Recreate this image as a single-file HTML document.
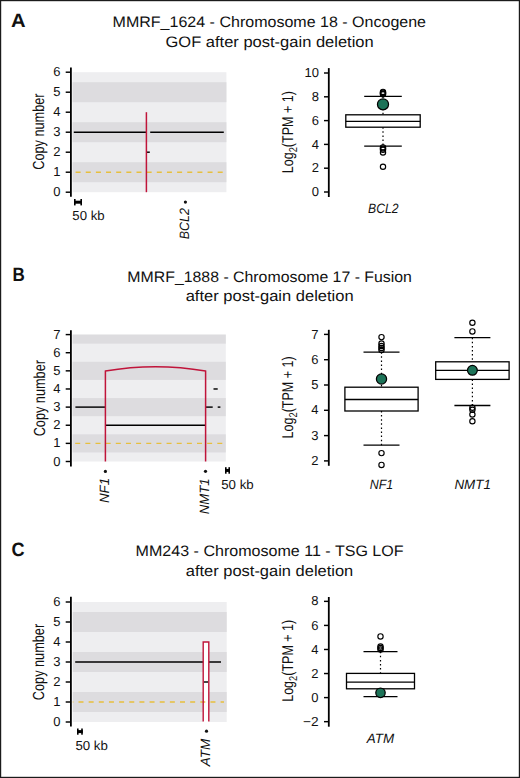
<!DOCTYPE html>
<html><head><meta charset="utf-8"><title>Figure</title>
<style>html,body{margin:0;padding:0;background:#fff;}svg{display:block;}</style>
</head><body>
<svg width="520" height="778" viewBox="0 0 520 778" text-rendering="geometricPrecision" font-family='"Liberation Sans", sans-serif' fill="#111">
<rect x="0.00" y="0.00" width="520.00" height="778.00" fill="#fff"/>
<text x="10.90" y="26.80" font-size="19.2" font-weight="bold" textLength="14.60" lengthAdjust="spacingAndGlyphs">A</text>
<text x="269.30" y="26.90" font-size="15.2" text-anchor="middle" textLength="313.50" lengthAdjust="spacingAndGlyphs">MMRF_1624 - Chromosome 18 - Oncogene</text>
<text x="269.60" y="46.50" font-size="15.2" text-anchor="middle" textLength="208.20" lengthAdjust="spacingAndGlyphs">GOF after post-gain deletion</text>
<rect x="72.60" y="72.20" width="153.80" height="120.00" fill="#eeeef0"/>
<rect x="72.60" y="162.20" width="153.80" height="20.00" fill="#dddcdf"/>
<rect x="72.60" y="122.20" width="153.80" height="20.00" fill="#dddcdf"/>
<rect x="72.60" y="82.20" width="153.80" height="20.00" fill="#dddcdf"/>
<line x1="70.90" y1="67.40" x2="70.90" y2="196.80" stroke="#000" stroke-width="1.8"/>
<line x1="65.70" y1="192.20" x2="70.90" y2="192.20" stroke="#000" stroke-width="1.45"/>
<text x="60.60" y="196.30" font-size="13" text-anchor="end">0</text>
<line x1="65.70" y1="172.20" x2="70.90" y2="172.20" stroke="#000" stroke-width="1.45"/>
<text x="60.60" y="176.30" font-size="13" text-anchor="end">1</text>
<line x1="65.70" y1="152.20" x2="70.90" y2="152.20" stroke="#000" stroke-width="1.45"/>
<text x="60.60" y="156.30" font-size="13" text-anchor="end">2</text>
<line x1="65.70" y1="132.20" x2="70.90" y2="132.20" stroke="#000" stroke-width="1.45"/>
<text x="60.60" y="136.30" font-size="13" text-anchor="end">3</text>
<line x1="65.70" y1="112.20" x2="70.90" y2="112.20" stroke="#000" stroke-width="1.45"/>
<text x="60.60" y="116.30" font-size="13" text-anchor="end">4</text>
<line x1="65.70" y1="92.20" x2="70.90" y2="92.20" stroke="#000" stroke-width="1.45"/>
<text x="60.60" y="96.30" font-size="13" text-anchor="end">5</text>
<line x1="65.70" y1="72.20" x2="70.90" y2="72.20" stroke="#000" stroke-width="1.45"/>
<text x="60.60" y="76.30" font-size="13" text-anchor="end">6</text>
<text x="44.40" y="131.60" font-size="16.0" text-anchor="middle" textLength="76.30" lengthAdjust="spacingAndGlyphs" transform="rotate(-90 44.40 131.60)">Copy number</text>
<rect x="74.00" y="200.70" width="8.00" height="3.00" fill="#000"/>
<rect x="74.00" y="199.00" width="1.60" height="6.40" fill="#000"/>
<rect x="80.40" y="199.00" width="1.60" height="6.40" fill="#000"/>
<text x="72.30" y="219.90" font-size="13" textLength="32.30" lengthAdjust="spacingAndGlyphs">50 kb</text>
<line x1="73.80" y1="132.20" x2="146.40" y2="132.20" stroke="#000" stroke-width="1.45"/>
<line x1="150.20" y1="132.20" x2="223.80" y2="132.20" stroke="#000" stroke-width="1.45"/>
<line x1="74.00" y1="172.20" x2="223.80" y2="172.20" stroke="#e7bf3e" stroke-width="1.4" stroke-dasharray="5.0 5.15" stroke-dashoffset="8.55"/>
<line x1="146.40" y1="152.20" x2="149.80" y2="152.20" stroke="#000" stroke-width="1.45"/>
<line x1="146.40" y1="112.20" x2="146.40" y2="192.20" stroke="#c0143a" stroke-width="1.5"/>
<circle cx="185.40" cy="202.10" r="1.6" fill="#111"/>
<text x="189.30" y="208.20" font-size="13.5" font-style="italic" text-anchor="end" transform="rotate(-90 189.30 208.20)" textLength="31.00" lengthAdjust="spacingAndGlyphs">BCL2</text>
<line x1="328.80" y1="68.10" x2="328.80" y2="197.00" stroke="#000" stroke-width="1.8"/>
<line x1="324.00" y1="192.00" x2="328.80" y2="192.00" stroke="#000" stroke-width="1.45"/>
<text x="318.90" y="196.10" font-size="13" text-anchor="end">0</text>
<line x1="324.00" y1="168.20" x2="328.80" y2="168.20" stroke="#000" stroke-width="1.45"/>
<text x="318.90" y="172.30" font-size="13" text-anchor="end">2</text>
<line x1="324.00" y1="144.40" x2="328.80" y2="144.40" stroke="#000" stroke-width="1.45"/>
<text x="318.90" y="148.50" font-size="13" text-anchor="end">4</text>
<line x1="324.00" y1="120.60" x2="328.80" y2="120.60" stroke="#000" stroke-width="1.45"/>
<text x="318.90" y="124.70" font-size="13" text-anchor="end">6</text>
<line x1="324.00" y1="96.80" x2="328.80" y2="96.80" stroke="#000" stroke-width="1.45"/>
<text x="318.90" y="100.90" font-size="13" text-anchor="end">8</text>
<line x1="324.00" y1="73.00" x2="328.80" y2="73.00" stroke="#000" stroke-width="1.45"/>
<text x="318.90" y="77.10" font-size="13" text-anchor="end">10</text>
<text x="293.10" y="132.20" font-size="15.6" text-anchor="middle" transform="rotate(-90 293.10 132.20)" textLength="82.00" lengthAdjust="spacingAndGlyphs">Log<tspan font-size="11.5" dy="3.6">2</tspan><tspan dy="-3.6">(TPM + 1)</tspan></text>
<line x1="383.00" y1="96.40" x2="383.00" y2="114.80" stroke="#000" stroke-width="1.2" stroke-dasharray="1.5 2.6"/>
<line x1="383.00" y1="127.20" x2="383.00" y2="146.10" stroke="#000" stroke-width="1.2" stroke-dasharray="1.5 2.6"/>
<rect x="345.80" y="114.80" width="74.40" height="12.40" fill="#fff" stroke="#000" stroke-width="1.3"/>
<line x1="345.80" y1="121.40" x2="420.20" y2="121.40" stroke="#000" stroke-width="1.3"/>
<line x1="364.20" y1="96.40" x2="401.80" y2="96.40" stroke="#000" stroke-width="1.3"/>
<line x1="364.20" y1="146.10" x2="401.80" y2="146.10" stroke="#000" stroke-width="1.3"/>
<circle cx="383.00" cy="91.90" r="2.65" fill="none" stroke="#000" stroke-width="1.15"/>
<circle cx="383.00" cy="92.70" r="2.65" fill="none" stroke="#000" stroke-width="1.15"/>
<circle cx="383.00" cy="93.50" r="2.65" fill="none" stroke="#000" stroke-width="1.15"/>
<circle cx="383.00" cy="94.30" r="2.65" fill="none" stroke="#000" stroke-width="1.15"/>
<circle cx="383.00" cy="147.40" r="2.65" fill="none" stroke="#000" stroke-width="1.15"/>
<circle cx="383.00" cy="148.60" r="2.65" fill="none" stroke="#000" stroke-width="1.15"/>
<circle cx="383.00" cy="149.80" r="2.65" fill="none" stroke="#000" stroke-width="1.15"/>
<circle cx="383.00" cy="152.40" r="2.65" fill="none" stroke="#000" stroke-width="1.15"/>
<circle cx="383.00" cy="166.75" r="2.65" fill="none" stroke="#000" stroke-width="1.15"/>
<circle cx="383.00" cy="104.30" r="5.55" fill="#1c7358" stroke="#000" stroke-width="1.25"/>
<text x="383.30" y="213.20" font-size="13.5" text-anchor="middle" font-style="italic" textLength="30.50" lengthAdjust="spacingAndGlyphs">BCL2</text>
<text x="12.50" y="281.30" font-size="19.2" font-weight="bold" textLength="12.30" lengthAdjust="spacingAndGlyphs">B</text>
<text x="269.65" y="281.70" font-size="15.2" text-anchor="middle" textLength="284.60" lengthAdjust="spacingAndGlyphs">MMRF_1888 - Chromosome 17 - Fusion</text>
<text x="269.65" y="300.50" font-size="15.2" text-anchor="middle" textLength="168.00" lengthAdjust="spacingAndGlyphs">after post-gain deletion</text>
<rect x="72.60" y="334.59" width="153.20" height="126.91" fill="#eeeef0"/>
<rect x="72.60" y="434.31" width="153.20" height="18.13" fill="#dddcdf"/>
<rect x="72.60" y="398.05" width="153.20" height="18.13" fill="#dddcdf"/>
<rect x="72.60" y="361.79" width="153.20" height="18.13" fill="#dddcdf"/>
<rect x="72.60" y="334.59" width="153.20" height="9.06" fill="#dddcdf"/>
<line x1="70.90" y1="330.30" x2="70.90" y2="466.60" stroke="#000" stroke-width="1.8"/>
<line x1="65.70" y1="461.50" x2="70.90" y2="461.50" stroke="#000" stroke-width="1.45"/>
<text x="60.40" y="465.60" font-size="13" text-anchor="end">0</text>
<line x1="65.70" y1="443.37" x2="70.90" y2="443.37" stroke="#000" stroke-width="1.45"/>
<text x="60.40" y="447.47" font-size="13" text-anchor="end">1</text>
<line x1="65.70" y1="425.24" x2="70.90" y2="425.24" stroke="#000" stroke-width="1.45"/>
<text x="60.40" y="429.34" font-size="13" text-anchor="end">2</text>
<line x1="65.70" y1="407.11" x2="70.90" y2="407.11" stroke="#000" stroke-width="1.45"/>
<text x="60.40" y="411.21" font-size="13" text-anchor="end">3</text>
<line x1="65.70" y1="388.98" x2="70.90" y2="388.98" stroke="#000" stroke-width="1.45"/>
<text x="60.40" y="393.08" font-size="13" text-anchor="end">4</text>
<line x1="65.70" y1="370.85" x2="70.90" y2="370.85" stroke="#000" stroke-width="1.45"/>
<text x="60.40" y="374.95" font-size="13" text-anchor="end">5</text>
<line x1="65.70" y1="352.72" x2="70.90" y2="352.72" stroke="#000" stroke-width="1.45"/>
<text x="60.40" y="356.82" font-size="13" text-anchor="end">6</text>
<line x1="65.70" y1="334.59" x2="70.90" y2="334.59" stroke="#000" stroke-width="1.45"/>
<text x="60.40" y="338.69" font-size="13" text-anchor="end">7</text>
<text x="44.70" y="398.20" font-size="16.0" text-anchor="middle" textLength="76.30" lengthAdjust="spacingAndGlyphs" transform="rotate(-90 44.70 398.20)">Copy number</text>
<rect x="225.00" y="468.95" width="5.00" height="3.00" fill="#000"/>
<rect x="225.00" y="467.20" width="1.60" height="6.50" fill="#000"/>
<rect x="228.40" y="467.20" width="1.60" height="6.50" fill="#000"/>
<text x="221.20" y="489.00" font-size="13" textLength="32.50" lengthAdjust="spacingAndGlyphs">50 kb</text>
<line x1="75.40" y1="407.11" x2="105.40" y2="407.11" stroke="#000" stroke-width="1.45"/>
<line x1="205.60" y1="407.11" x2="212.70" y2="407.11" stroke="#000" stroke-width="1.45"/>
<line x1="217.70" y1="407.11" x2="220.40" y2="407.11" stroke="#000" stroke-width="1.45"/>
<line x1="213.50" y1="388.98" x2="217.70" y2="388.98" stroke="#000" stroke-width="1.45"/>
<line x1="105.40" y1="425.24" x2="205.60" y2="425.24" stroke="#000" stroke-width="1.45"/>
<line x1="74.00" y1="443.37" x2="224.00" y2="443.37" stroke="#e7bf3e" stroke-width="1.4" stroke-dasharray="5.0 5.15" stroke-dashoffset="8.95"/>
<path d="M105.4 461.50 V371.1 Q155.5 362.2 205.6 371.1 V461.50" fill="none" stroke="#c0143a" stroke-width="1.5"/>
<circle cx="105.40" cy="471.40" r="1.6" fill="#111"/>
<circle cx="205.50" cy="471.30" r="1.6" fill="#111"/>
<text x="109.30" y="477.90" font-size="13.5" font-style="italic" text-anchor="end" transform="rotate(-90 109.30 477.90)" textLength="25.20" lengthAdjust="spacingAndGlyphs">NF1</text>
<text x="209.20" y="478.30" font-size="13.5" font-style="italic" text-anchor="end" transform="rotate(-90 209.20 478.30)" textLength="36.00" lengthAdjust="spacingAndGlyphs">NMT1</text>
<line x1="328.80" y1="329.80" x2="328.80" y2="465.80" stroke="#000" stroke-width="1.8"/>
<line x1="324.00" y1="460.90" x2="328.80" y2="460.90" stroke="#000" stroke-width="1.45"/>
<text x="318.50" y="465.00" font-size="13" text-anchor="end">2</text>
<line x1="324.00" y1="435.60" x2="328.80" y2="435.60" stroke="#000" stroke-width="1.45"/>
<text x="318.50" y="439.70" font-size="13" text-anchor="end">3</text>
<line x1="324.00" y1="410.30" x2="328.80" y2="410.30" stroke="#000" stroke-width="1.45"/>
<text x="318.50" y="414.40" font-size="13" text-anchor="end">4</text>
<line x1="324.00" y1="385.00" x2="328.80" y2="385.00" stroke="#000" stroke-width="1.45"/>
<text x="318.50" y="389.10" font-size="13" text-anchor="end">5</text>
<line x1="324.00" y1="359.70" x2="328.80" y2="359.70" stroke="#000" stroke-width="1.45"/>
<text x="318.50" y="363.80" font-size="13" text-anchor="end">6</text>
<line x1="324.00" y1="334.40" x2="328.80" y2="334.40" stroke="#000" stroke-width="1.45"/>
<text x="318.50" y="338.50" font-size="13" text-anchor="end">7</text>
<text x="293.10" y="397.40" font-size="15.6" text-anchor="middle" transform="rotate(-90 293.10 397.40)" textLength="82.00" lengthAdjust="spacingAndGlyphs">Log<tspan font-size="11.5" dy="3.6">2</tspan><tspan dy="-3.6">(TPM + 1)</tspan></text>
<line x1="381.50" y1="352.20" x2="381.50" y2="387.20" stroke="#000" stroke-width="1.2" stroke-dasharray="1.5 2.6"/>
<line x1="381.50" y1="411.00" x2="381.50" y2="445.20" stroke="#000" stroke-width="1.2" stroke-dasharray="1.5 2.6"/>
<rect x="344.90" y="387.20" width="73.20" height="23.80" fill="#fff" stroke="#000" stroke-width="1.3"/>
<line x1="344.90" y1="399.50" x2="418.10" y2="399.50" stroke="#000" stroke-width="1.3"/>
<line x1="363.50" y1="352.20" x2="399.50" y2="352.20" stroke="#000" stroke-width="1.3"/>
<line x1="363.50" y1="445.20" x2="399.50" y2="445.20" stroke="#000" stroke-width="1.3"/>
<circle cx="381.50" cy="337.10" r="2.65" fill="none" stroke="#000" stroke-width="1.15"/>
<circle cx="381.50" cy="343.50" r="2.65" fill="none" stroke="#000" stroke-width="1.15"/>
<circle cx="381.50" cy="346.00" r="2.65" fill="none" stroke="#000" stroke-width="1.15"/>
<circle cx="381.50" cy="348.00" r="2.65" fill="none" stroke="#000" stroke-width="1.15"/>
<circle cx="381.50" cy="350.00" r="2.65" fill="none" stroke="#000" stroke-width="1.15"/>
<circle cx="381.50" cy="453.10" r="2.65" fill="none" stroke="#000" stroke-width="1.15"/>
<circle cx="381.50" cy="464.90" r="2.65" fill="none" stroke="#000" stroke-width="1.15"/>
<circle cx="381.50" cy="379.00" r="5.10" fill="#1c7358" stroke="#000" stroke-width="1.25"/>
<text x="381.50" y="488.50" font-size="13.5" text-anchor="middle" font-style="italic" textLength="23.50" lengthAdjust="spacingAndGlyphs">NF1</text>
<line x1="472.40" y1="337.70" x2="472.40" y2="361.80" stroke="#000" stroke-width="1.2" stroke-dasharray="1.5 2.6"/>
<line x1="472.40" y1="379.40" x2="472.40" y2="405.50" stroke="#000" stroke-width="1.2" stroke-dasharray="1.5 2.6"/>
<rect x="435.70" y="361.80" width="73.40" height="17.60" fill="#fff" stroke="#000" stroke-width="1.3"/>
<line x1="435.70" y1="370.40" x2="509.10" y2="370.40" stroke="#000" stroke-width="1.3"/>
<line x1="454.40" y1="337.70" x2="490.40" y2="337.70" stroke="#000" stroke-width="1.3"/>
<line x1="454.40" y1="405.50" x2="490.40" y2="405.50" stroke="#000" stroke-width="1.3"/>
<circle cx="472.40" cy="322.70" r="2.65" fill="none" stroke="#000" stroke-width="1.15"/>
<circle cx="472.40" cy="331.40" r="2.65" fill="none" stroke="#000" stroke-width="1.15"/>
<circle cx="472.40" cy="407.80" r="2.65" fill="none" stroke="#000" stroke-width="1.15"/>
<circle cx="472.40" cy="409.70" r="2.65" fill="none" stroke="#000" stroke-width="1.15"/>
<circle cx="472.40" cy="414.50" r="2.65" fill="none" stroke="#000" stroke-width="1.15"/>
<circle cx="472.40" cy="421.30" r="2.65" fill="none" stroke="#000" stroke-width="1.15"/>
<circle cx="472.40" cy="370.30" r="4.90" fill="#1c7358" stroke="#000" stroke-width="1.25"/>
<text x="472.70" y="488.50" font-size="13.5" text-anchor="middle" font-style="italic" textLength="36.50" lengthAdjust="spacingAndGlyphs">NMT1</text>
<text x="11.40" y="556.40" font-size="19.2" font-weight="bold" textLength="13.10" lengthAdjust="spacingAndGlyphs">C</text>
<text x="269.60" y="556.00" font-size="15.2" text-anchor="middle" textLength="268.00" lengthAdjust="spacingAndGlyphs">MM243 - Chromosome 11 - TSG LOF</text>
<text x="269.50" y="575.70" font-size="15.2" text-anchor="middle" textLength="167.50" lengthAdjust="spacingAndGlyphs">after post-gain deletion</text>
<rect x="72.80" y="602.00" width="153.90" height="120.00" fill="#eeeef0"/>
<rect x="72.80" y="692.00" width="153.90" height="20.00" fill="#dddcdf"/>
<rect x="72.80" y="652.00" width="153.90" height="20.00" fill="#dddcdf"/>
<rect x="72.80" y="612.00" width="153.90" height="20.00" fill="#dddcdf"/>
<line x1="70.90" y1="596.70" x2="70.90" y2="726.50" stroke="#000" stroke-width="1.8"/>
<line x1="65.70" y1="722.00" x2="70.90" y2="722.00" stroke="#000" stroke-width="1.45"/>
<text x="60.40" y="726.10" font-size="13" text-anchor="end">0</text>
<line x1="65.70" y1="702.00" x2="70.90" y2="702.00" stroke="#000" stroke-width="1.45"/>
<text x="60.40" y="706.10" font-size="13" text-anchor="end">1</text>
<line x1="65.70" y1="682.00" x2="70.90" y2="682.00" stroke="#000" stroke-width="1.45"/>
<text x="60.40" y="686.10" font-size="13" text-anchor="end">2</text>
<line x1="65.70" y1="662.00" x2="70.90" y2="662.00" stroke="#000" stroke-width="1.45"/>
<text x="60.40" y="666.10" font-size="13" text-anchor="end">3</text>
<line x1="65.70" y1="642.00" x2="70.90" y2="642.00" stroke="#000" stroke-width="1.45"/>
<text x="60.40" y="646.10" font-size="13" text-anchor="end">4</text>
<line x1="65.70" y1="622.00" x2="70.90" y2="622.00" stroke="#000" stroke-width="1.45"/>
<text x="60.40" y="626.10" font-size="13" text-anchor="end">5</text>
<line x1="65.70" y1="602.00" x2="70.90" y2="602.00" stroke="#000" stroke-width="1.45"/>
<text x="60.40" y="606.10" font-size="13" text-anchor="end">6</text>
<text x="44.10" y="662.00" font-size="16.0" text-anchor="middle" textLength="76.30" lengthAdjust="spacingAndGlyphs" transform="rotate(-90 44.10 662.00)">Copy number</text>
<rect x="77.00" y="730.10" width="5.80" height="3.00" fill="#000"/>
<rect x="77.00" y="728.50" width="1.60" height="6.20" fill="#000"/>
<rect x="81.20" y="728.50" width="1.60" height="6.20" fill="#000"/>
<text x="75.40" y="749.70" font-size="13" textLength="32.50" lengthAdjust="spacingAndGlyphs">50 kb</text>
<line x1="75.20" y1="662.00" x2="221.00" y2="662.00" stroke="#000" stroke-width="1.45"/>
<rect x="203.20" y="642.00" width="5.60" height="80.00" fill="#fff"/>
<line x1="203.70" y1="682.00" x2="208.10" y2="682.00" stroke="#000" stroke-width="1.45"/>
<line x1="72.80" y1="702.00" x2="224.00" y2="702.00" stroke="#e7bf3e" stroke-width="1.4" stroke-dasharray="5.0 5.15" stroke-dashoffset="4.45"/>
<path d="M203.2 721.40 V642.00 H208.8 V721.40" fill="none" stroke="#c0143a" stroke-width="1.4"/>
<circle cx="206.50" cy="731.20" r="1.6" fill="#111"/>
<text x="210.10" y="738.80" font-size="13.5" font-style="italic" text-anchor="end" transform="rotate(-90 210.10 738.80)" textLength="27.40" lengthAdjust="spacingAndGlyphs">ATM</text>
<line x1="328.80" y1="597.00" x2="328.80" y2="726.70" stroke="#000" stroke-width="1.8"/>
<line x1="324.00" y1="721.66" x2="328.80" y2="721.66" stroke="#000" stroke-width="1.45"/>
<text x="318.50" y="725.76" font-size="13" text-anchor="end" textLength="15.60" lengthAdjust="spacingAndGlyphs">−2</text>
<line x1="324.00" y1="697.60" x2="328.80" y2="697.60" stroke="#000" stroke-width="1.45"/>
<text x="318.50" y="701.70" font-size="13" text-anchor="end">0</text>
<line x1="324.00" y1="673.54" x2="328.80" y2="673.54" stroke="#000" stroke-width="1.45"/>
<text x="318.50" y="677.64" font-size="13" text-anchor="end">2</text>
<line x1="324.00" y1="649.48" x2="328.80" y2="649.48" stroke="#000" stroke-width="1.45"/>
<text x="318.50" y="653.58" font-size="13" text-anchor="end">4</text>
<line x1="324.00" y1="625.42" x2="328.80" y2="625.42" stroke="#000" stroke-width="1.45"/>
<text x="318.50" y="629.52" font-size="13" text-anchor="end">6</text>
<line x1="324.00" y1="601.36" x2="328.80" y2="601.36" stroke="#000" stroke-width="1.45"/>
<text x="318.50" y="605.46" font-size="13" text-anchor="end">8</text>
<text x="293.10" y="660.80" font-size="15.6" text-anchor="middle" transform="rotate(-90 293.10 660.80)" textLength="82.00" lengthAdjust="spacingAndGlyphs">Log<tspan font-size="11.5" dy="3.6">2</tspan><tspan dy="-3.6">(TPM + 1)</tspan></text>
<line x1="380.50" y1="651.70" x2="380.50" y2="673.40" stroke="#000" stroke-width="1.2" stroke-dasharray="1.5 2.6"/>
<line x1="380.50" y1="688.80" x2="380.50" y2="696.70" stroke="#000" stroke-width="1.2" stroke-dasharray="1.5 2.6"/>
<rect x="346.50" y="673.40" width="68.00" height="15.40" fill="#fff" stroke="#000" stroke-width="1.3"/>
<line x1="346.50" y1="682.20" x2="414.50" y2="682.20" stroke="#000" stroke-width="1.3"/>
<line x1="363.50" y1="651.70" x2="397.50" y2="651.70" stroke="#000" stroke-width="1.3"/>
<line x1="363.50" y1="696.70" x2="397.50" y2="696.70" stroke="#000" stroke-width="1.3"/>
<circle cx="380.50" cy="636.40" r="2.65" fill="none" stroke="#000" stroke-width="1.15"/>
<circle cx="380.50" cy="646.50" r="2.65" fill="none" stroke="#000" stroke-width="1.15"/>
<circle cx="380.50" cy="648.00" r="2.65" fill="none" stroke="#000" stroke-width="1.15"/>
<circle cx="380.50" cy="649.50" r="2.65" fill="none" stroke="#000" stroke-width="1.15"/>
<circle cx="380.50" cy="692.80" r="4.70" fill="#1c7358" stroke="#000" stroke-width="1.25"/>
<text x="380.50" y="742.80" font-size="13.5" text-anchor="middle" font-style="italic" textLength="27.30" lengthAdjust="spacingAndGlyphs">ATM</text>
<rect x="0.6" y="0.6" width="518.8" height="776.8" fill="none" stroke="#1b1b1b" stroke-width="1.2"/>
</svg>
</body></html>
